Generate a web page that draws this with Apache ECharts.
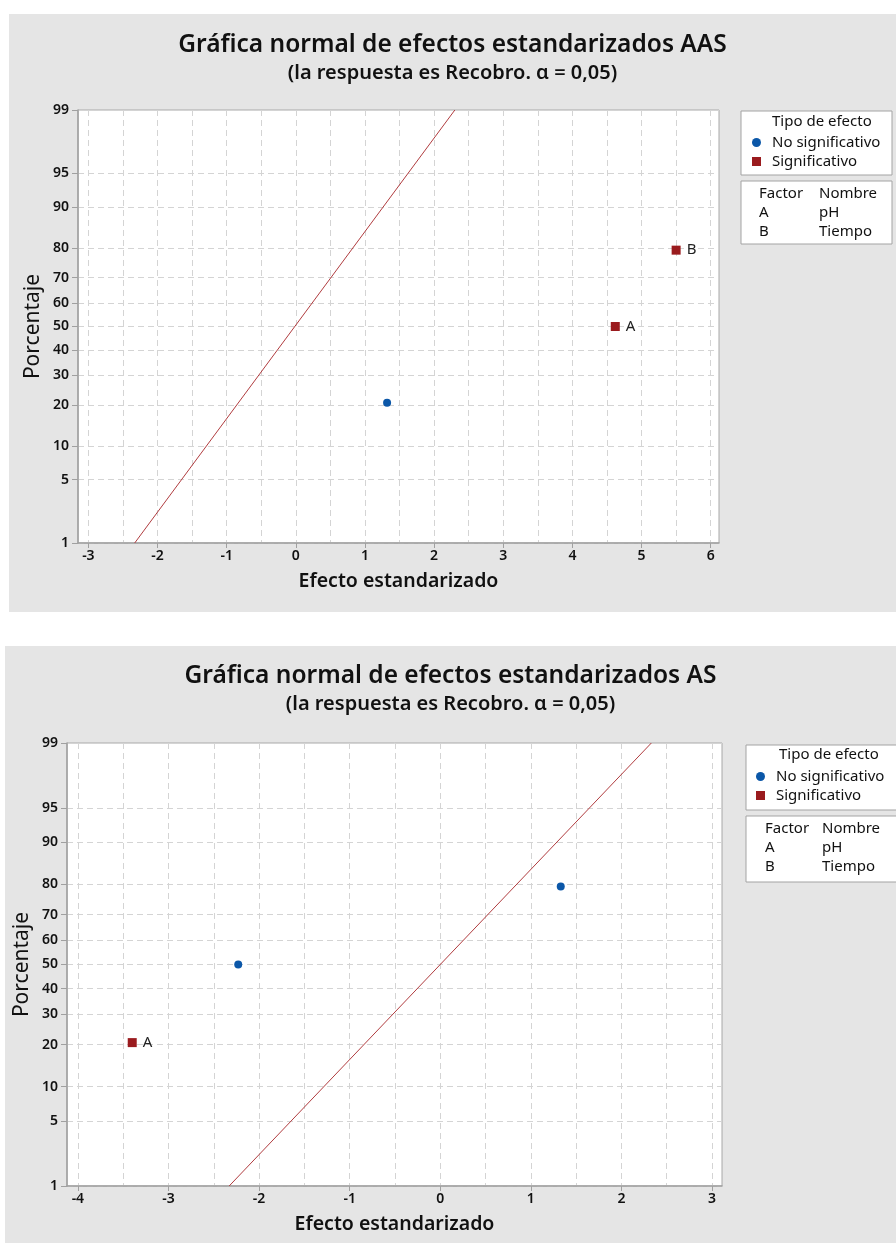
<!DOCTYPE html>
<html>
<head>
<meta charset="utf-8">
<script src="https://cdn.jsdelivr.net/npm/echarts@6/dist/echarts.min.js"></script>
<style>
  body { margin: 0; background: #fff; width: 896px; height: 1243px; position: relative; overflow: hidden; }
  .panel { position: absolute; background: #e5e5e5; }
</style>
</head>
<body>
<div id="chartTop" class="panel" style="left:9px; top:14px; width:887px; height:598px;"></div>
<div id="chartBottom" class="panel" style="left:5px; top:646px; width:891px; height:597px;"></div>

<script>
// percent ticks on the normal probability axis
const pctTicks = [1, 5, 10, 20, 30, 40, 50, 60, 70, 80, 90, 95, 99]

// top chart (AAS)
const topXTicks = [-3, -2, -1, 0, 1, 2, 3, 4, 5, 6]
const topNsX = [1.32]
const topNsPct = [20.6]
const topSigX = [4.62, 5.50]
const topSigPct = [50, 79.4]
const topSigNames = ['A', 'B']
const topLineX = [-2.33, 2.30]
const topLinePct = [1, 99]

// bottom chart (AS)
const botXTicks = [-4, -3, -2, -1, 0, 1, 2, 3]
const botNsX = [-2.23, 1.33]
const botNsPct = [50, 79.4]
const botSigX = [-3.40]
const botSigPct = [20.6]
const botSigNames = ['A']
const botLineX = [-2.33, 2.33]
const botLinePct = [1, 99]

const factorRows = [['Factor', 'Nombre'], ['A', 'pH'], ['B', 'Tiempo']]

const FONT = '"Noto Sans", "Open Sans", sans-serif'

// inverse normal cdf (Acklam) - the probability axis is drawn in z units
function probit(p) {
  const a = [-3.969683028665376e+01, 2.209460984245205e+02, -2.759285104469687e+02, 1.383577518672690e+02, -3.066479806614716e+01, 2.506628277459239e+00]
  const b = [-5.447609879822406e+01, 1.615858368580409e+02, -1.556989798598866e+02, 6.680131188771972e+01, -1.328068155288572e+01]
  const c = [-7.784894002430293e-03, -3.223964580411365e-01, -2.400758277161838e+00, -2.549732539343734e+00, 4.374664141464968e+00, 2.938163982698783e+00]
  const d = [7.784695709041462e-03, 3.224671290700398e-01, 2.445134137142996e+00, 3.754408661907416e+00]
  const pl = 0.02425
  let q, r
  if (p < pl) {
    q = Math.sqrt(-2 * Math.log(p))
    return (((((c[0] * q + c[1]) * q + c[2]) * q + c[3]) * q + c[4]) * q + c[5]) / ((((d[0] * q + d[1]) * q + d[2]) * q + d[3]) * q + 1)
  }
  if (p > 1 - pl) {
    q = Math.sqrt(-2 * Math.log(1 - p))
    return -(((((c[0] * q + c[1]) * q + c[2]) * q + c[3]) * q + c[4]) * q + c[5]) / ((((d[0] * q + d[1]) * q + d[2]) * q + d[3]) * q + 1)
  }
  q = p - 0.5
  r = q * q
  return (((((a[0] * r + a[1]) * r + a[2]) * r + a[3]) * r + a[4]) * r + a[5]) * q / (((((b[0] * r + b[1]) * r + b[2]) * r + b[3]) * r + b[4]) * r + 1)
}
const z = pct => probit(pct / 100)
const zTicks = pctTicks.map(z)

function pctLabel(v) {
  let best = 0
  zTicks.forEach((t, i) => { if (Math.abs(t - v) < Math.abs(zTicks[best] - v)) best = i })
  return String(pctTicks[best])
}

function halfSteps(ticks) {
  const out = []
  ticks.forEach(t => { out.push(t); out.push(t + 0.5) })
  out.push(ticks[0] - 0.5)
  return out
}

const gridLine = { show: true, lineStyle: { color: '#d4d4d4', type: [6, 4], width: 1 } }

function buildOption(cfg) {
  const legendTexts = [
    { type: 'rect', left: cfg.box.x, top: cfg.box.y1, z: 1,
      shape: { width: cfg.box.w, height: cfg.box.h1 },
      style: { fill: '#fff', stroke: '#a3a3a3', lineWidth: 1 } },
    { type: 'rect', left: cfg.box.x, top: cfg.box.y2, z: 1,
      shape: { width: cfg.box.w, height: cfg.box.h2 },
      style: { fill: '#fff', stroke: '#a3a3a3', lineWidth: 1 } },
    { type: 'text', x: cfg.box.textX, y: cfg.box.headY, z: 5,
      style: { text: 'Tipo de efecto', font: '15px ' + FONT, fill: '#111', verticalAlign: 'middle' } }
  ]
  factorRows.forEach((row, i) => {
    legendTexts.push({ type: 'text', x: cfg.box.col1, y: cfg.box.rowY + i * 19, z: 5,
      style: { text: row[0], font: '15px ' + FONT, fill: '#111', verticalAlign: 'middle' } })
    legendTexts.push({ type: 'text', x: cfg.box.col2, y: cfg.box.rowY + i * 19, z: 5,
      style: { text: row[1], font: '15px ' + FONT, fill: '#111', verticalAlign: 'middle' } })
  })

  return {
    animation: false,
    backgroundColor: '#e5e5e5',
    textStyle: { fontFamily: FONT },
    title: {
      text: cfg.title,
      subtext: '(la respuesta es Recobro. α = 0,05)',
      left: 'center',
      top: cfg.titleTop,
      padding: 0,
      itemGap: 3,
      textStyle: { fontSize: 24.5, fontWeight: 600, color: '#111', lineHeight: 28 },
      subtextStyle: { fontSize: 20, fontWeight: 600, color: '#111', lineHeight: 22 }
    },
    grid: {
      left: cfg.grid.left, right: cfg.grid.right, top: cfg.grid.top, bottom: cfg.grid.bottom,
      outerBoundsMode: 'none',
      show: true, backgroundColor: '#fff', borderColor: '#a8a8a8', borderWidth: 1
    },
    legend: {
      orient: 'vertical',
      left: cfg.legend.left,
      top: cfg.legend.top,
      padding: 0,
      itemGap: 0,
      itemWidth: 9,
      itemHeight: 9,
      z: 10,
      data: ['No significativo', 'Significativo'],
      textStyle: { fontSize: 15, color: '#111', lineHeight: 19, padding: [0, 0, 0, 6] }
    },
    graphic: legendTexts,
    xAxis: [
      {
        type: 'value',
        min: cfg.xMin,
        max: cfg.xMax,
        name: 'Efecto estandarizado',
        nameLocation: 'middle',
        nameGap: 27,
        nameMoveOverlap: false,
        nameTextStyle: { fontSize: 19.5, fontWeight: 600, color: '#111', lineHeight: 22 },
        axisLine: { show: true, onZero: false, lineStyle: { color: '#a0a0a0', width: 1.5 } },
        axisTick: { show: true, length: 5, customValues: cfg.xTicks, lineStyle: { color: '#a0a0a0' } },
        axisLabel: { customValues: cfg.xTicks, margin: 6, fontSize: 14, fontWeight: 600, color: '#111' },
        splitLine: { show: false }
      },
      {
        type: 'value',
        min: cfg.xMin,
        max: cfg.xMax,
        position: 'bottom',
        axisLine: { show: false, onZero: false },
        axisTick: { show: false, customValues: halfSteps(cfg.xTicks) },
        axisLabel: { show: false },
        splitLine: gridLine
      }
    ],
    yAxis: {
      type: 'value',
      min: z(1),
      max: z(99),
      name: 'Porcentaje',
      nameLocation: 'middle',
      nameGap: cfg.yNameGap,
      nameMoveOverlap: false,
      nameTextStyle: { fontSize: 21, color: '#111', lineHeight: 24 },
      axisLine: { show: true, onZero: false, lineStyle: { color: '#a0a0a0', width: 1.5 } },
      axisTick: { show: true, length: 6, customValues: zTicks, lineStyle: { color: '#a0a0a0' } },
      axisLabel: { customValues: zTicks, margin: 9, fontSize: 14, fontWeight: 600, color: '#111', formatter: pctLabel },
      splitLine: gridLine
    },
    series: [
      {
        name: 'Línea',
        type: 'line',
        xAxisIndex: 0,
        showSymbol: false,
        silent: true,
        lineStyle: { color: '#b03c3f', width: 1 },
        data: cfg.lineX.map((x, i) => [x, z(cfg.linePct[i])])
      },
      {
        name: 'No significativo',
        type: 'scatter',
        xAxisIndex: 0,
        symbol: 'circle',
        symbolSize: 8,
        itemStyle: { color: '#0b57a8', opacity: 1 },
        data: cfg.nsX.map((x, i) => [x, z(cfg.nsPct[i])])
      },
      {
        name: 'Significativo',
        type: 'scatter',
        xAxisIndex: 0,
        symbol: 'rect',
        symbolSize: 9,
        itemStyle: { color: '#9a1b1e', opacity: 1 },
        label: {
          show: true,
          position: 'right',
          distance: 6,
          fontSize: 15,
          color: '#222',
          formatter: p => cfg.sigNames[p.dataIndex]
        },
        data: cfg.sigX.map((x, i) => [x, z(cfg.sigPct[i])])
      }
    ]
  }
}

const topChart = echarts.init(document.getElementById('chartTop'))
topChart.setOption(buildOption({
  title: 'Gráfica normal de efectos estandarizados AAS',
  titleTop: 17,
  grid: { left: 69, right: 177, top: 96, bottom: 69 },
  yNameGap: 33,
  xMin: -3.15, xMax: 6.12, xTicks: topXTicks,
  nsX: topNsX, nsPct: topNsPct, sigX: topSigX, sigPct: topSigPct, sigNames: topSigNames,
  lineX: topLineX, linePct: topLinePct,
  legend: { left: 743, top: 119 },
  box: { x: 731.5, y1: 96.5, w: 151, h1: 64, y2: 166.5, h2: 63,
    textX: 763, headY: 108, col1: 750, col2: 810, rowY: 179.5 }
}))

const bottomChart = echarts.init(document.getElementById('chartBottom'))
bottomChart.setOption(buildOption({
  title: 'Gráfica normal de efectos estandarizados AS',
  titleTop: 16,
  grid: { left: 62, right: 174, top: 97, bottom: 57 },
  yNameGap: 33,
  xMin: -4.12, xMax: 3.11, xTicks: botXTicks,
  nsX: botNsX, nsPct: botNsPct, sigX: botSigX, sigPct: botSigPct, sigNames: botSigNames,
  lineX: botLineX, linePct: botLinePct,
  legend: { left: 751, top: 121 },
  box: { x: 740.5, y1: 98.5, w: 170, h1: 65, y2: 169.5, h2: 66,
    textX: 774, headY: 109, col1: 760, col2: 817, rowY: 182.5 }
}))

window.addEventListener('resize', () => {
  topChart.resize()
  bottomChart.resize()
})
</script>
</body>
</html>
